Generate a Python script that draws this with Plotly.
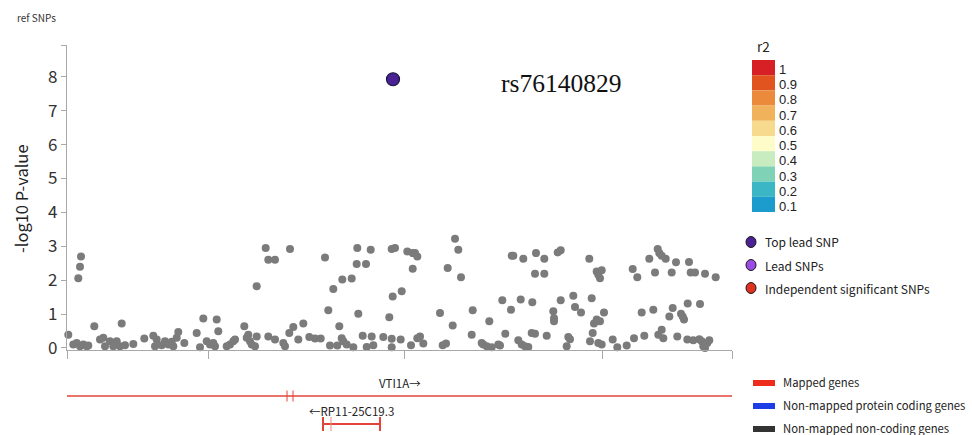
import plotly.graph_objects as go

W, H = 972, 435

# ---------------- data ----------------
# SNP positions (relative position in region, kb-like units) and -log10 P
snp_pos = [1.3, 6.3, 9.7, 13, 16.3, 19.7, 21.3, 11.3, 13, 14, 27.3, 33, 36.3, 38, 43, 46.3, 49.7, 53, 54.7, 58,
           66.3, 77.3, 86.3, 88, 89.7, 94.7, 98, 101.3, 104.7, 106.3, 109.7, 111.3, 117.3, 129.7, 133, 136.3, 139.7, 143, 146.3, 148,
           149.7, 151.3, 159.7, 163, 166.3, 168, 177.3, 179.7, 181.3, 183, 184.7, 188, 189.7, 189.7, 198.7, 201.3, 208, 201.3, 208, 216.3,
           218, 223, 222.3, 226.3, 231.3, 236.3, 242.3, 248, 253.7, 258, 261.3, 263, 266.3, 270.3, 272.3, 274.7, 276.3, 279.7, 275.3, 284.7,
           286.3, 290.3, 289.7, 291.3, 295.7, 299, 299.7, 303.7, 304.7, 306.3, 316.3, 322.3, 324.7, 328, 325.7, 324.7, 324.7, 334.7, 333.7, 340.3,
           345.7, 348, 350.3, 345.7, 344, 350.3, 353, 356.3, 373, 375.7, 379, 380.7, 385.7, 388, 391.3, 394, 404.7, 405.7, 414.7, 416.3,
           419.7, 422.3, 424.7, 431.3, 435.3, 438.3, 444, 433,
           444.7, 446.3, 451.3, 454.7, 458, 461.3, 453.7, 456.3, 465.3, 464.7, 468, 469, 468, 477.3, 477.3, 479.7, 486.3, 487, 487, 490.7,
           493.7, 493.7, 499.7, 501.3, 503, 506.3, 508, 514, 522.3, 523, 524.7, 525.7, 527, 529.7, 533, 537, 529.7, 531.3, 533, 534.7,
           531.3, 534.7, 545.7, 550.3, 559.7, 565.7, 570.3, 567, 574.7, 577.3, 582.3, 586.3, 588, 590.7, 592.3, 594.7, 598.7, 591.3, 594.7, 596.3,
           602.3, 604.7, 605.7, 609, 610.3, 614, 615.7, 617, 620.7, 620.3, 622, 623.7, 628, 626.3, 633, 632.3, 634.7, 636.3, 638, 640.3,
           642.3, 638, 648.7]
snp_logp = [0.39, 0.10, 0.15, 0.05, 0.10, 0.05, 0.07, 2.06, 2.40, 2.70, 0.64, 0.25, 0.30, 0.05, 0.20, 0.05, 0.20, 0.05, 0.72, 0.08,
            0.12, 0.28, 0.36, 0.05, 0.25, 0.08, 0.20, 0.10, 0.18, 0.05, 0.30, 0.47, 0.15, 0.44, 0.02, 0.87, 0.20, 0.10, 0.15, 0.05,
            0.84, 0.49, 0.05, 0.10, 0.20, 0.25, 0.64, 0.30, 0.39, 0.20, 0.10, 0.05, 0.34, 1.82, 2.95, 2.60, 2.60, 0.34, 0.25, 0.15,
            0.05, 2.92, 0.44, 0.62, 0.25, 0.72, 0.32, 0.28, 0.28, 2.67, 1.11, 0.07, 1.74, 0.07, 0.64, 0.29, 0.20, 0.10, 2.02, 2.05,
            0.02, 2.95, 2.48, 1.01, 0.36, 2.48, 0.03, 2.90, 0.34, 0.08, 0.32, 0.91, 2.92, 2.95, 1.52, 0.27, 0.02, 1.67, 0.25, 2.85,
            2.80, 2.80, 2.70, 2.34, 0.08, 0.29, 0.34, 0.13, 1.03, 0.08, 0.13, 2.36, 0.66, 3.22, 2.90, 2.09, 0.39, 1.11, 0.15, 0.10,
            0.05, 0.79, 0.02, 0.10, 1.41, 0.42, 1.13, 0.07,
            2.72, 2.72, 0.23, 0.10, 0.05, 0.03, 1.43, 2.63, 1.35, 0.44, 0.42, 2.80, 2.19, 2.19, 2.63, 0.36, 1.08, 0.88, 0.79, 2.82,
            2.88, 1.41, 0.05, 0.32, 0.26, 1.54, 1.21, 1.05, 2.63, 0.20, 1.47, 0.44, 0.72, 0.84, 0.79, 1.05, 2.26, 2.16, 2.06, 2.29,
            0.15, 0.10, 0.25, 0.02, 0.07, 2.33, 2.09, 0.29, 1.05, 0.36, 2.63, 1.13, 2.23, 2.92, 2.80, 2.72, 2.63, 0.39, 0.54, 0.29,
            0.93, 2.23, 1.18, 2.53, 0.34, 1.01, 0.93, 0.84, 1.31, 0.25, 2.54, 2.23, 2.23, 0.23, 1.30, 0.26, 0.20, 0.05, 0.00, 0.15,
            0.23, 2.19, 2.09]

lead_name = "rs76140829"
lead_pos = [326]
lead_logp = [7.93]

region = [0, 665]
x_ticks = [141, 337, 535]
y_ticks = [0, 1, 2, 3, 4, 5, 6, 7, 8]
y_top = 8.94

r2_labels = ["1", "0.9", "0.8", "0.7", "0.6", "0.5", "0.4", "0.3", "0.2", "0.1"]
r2_colors = ["#d71f26", "#e2541f", "#eb8a3a", "#f0b35c", "#f8da8e", "#fefcc8", "#c8ebc0", "#80d2b6", "#3bb6c4", "#1c9ccc"]

snp_legend_labels = ["Top lead SNP", "Lead SNPs", "Independent significant SNPs"]
snp_legend_colors = ["#4a2296", "#9b4ce6", "#e0321e"]

gene_legend_labels = ["Mapped genes", "Non-mapped protein coding genes", "Non-mapped non-coding genes"]
gene_legend_colors = ["#ee2c1c", "#1c3ee6", "#333333"]

gene_names = ["VTI1A\u2192", "\u2190RP11-25C19.3"]
gene_start = [0, 256]
gene_end = [665, 313]
gene_row = [0, 1]
gene_exons = [[220, 226], [264]]
gene_caps = [False, True]

# ---------------- layout helpers ----------------
FONT = "Noto Sans CJK JP, Liberation Sans, Arial, sans-serif"
FONT2 = "Liberation Sans, Arial, sans-serif"
def px(x):
    return x / W
def py(y):
    return 1 - y / H

row_y = {0: 39, 1: 11}
label_dy = 13
gene_color = "#e2443a"

fig = go.Figure()

fig.add_trace(go.Scatter(x=snp_pos, y=snp_logp, mode="markers",
                         marker=dict(size=8, color="#7b7b7b"), cliponaxis=False,
                         showlegend=False, hoverinfo="x+y"))
fig.add_trace(go.Scatter(x=lead_pos, y=lead_logp, mode="markers",
                         marker=dict(size=13, color="#4a2296", line=dict(width=1.2, color="#15153a")),
                         cliponaxis=False, showlegend=False, text=[lead_name]))

shapes = []
annotations = []

# gene track
for name, s, e, r, ex, cap in zip(gene_names, gene_start, gene_end, gene_row, gene_exons, gene_caps):
    yv = row_y[r]
    fig.add_trace(go.Scatter(x=[s, e], y=[yv, yv], mode="lines", xaxis="x2", yaxis="y2",
                             line=dict(color=gene_color, width=1.4 if not cap else 2),
                             showlegend=False, hoverinfo="skip", cliponaxis=False))
    for xe in ex:
        h = 7 if cap else 5.5
        fig.add_trace(go.Scatter(x=[xe, xe], y=[yv - h, yv + h], mode="lines", xaxis="x2", yaxis="y2",
                                 line=dict(color="#ee8a80" if cap else gene_color, width=1),
                                 showlegend=False, hoverinfo="skip", cliponaxis=False))
    if cap:
        for xe in (s, e):
            fig.add_trace(go.Scatter(x=[xe, xe], y=[yv - 7, yv + 7], mode="lines", xaxis="x2", yaxis="y2",
                                     line=dict(color=gene_color, width=2),
                                     showlegend=False, hoverinfo="skip", cliponaxis=False))
    annotations.append(dict(x=(s + e) / 2, y=yv + label_dy, xref="x2", yref="y2", text=name, showarrow=False,
                            font=dict(family=FONT, size=11.5, color="#222"), xanchor="center", yanchor="middle"))

# r2 colour scale
annotations.append(dict(x=px(763), y=py(46), xref="paper", yref="paper", text="r2", showarrow=False,
                        font=dict(family=FONT, size=13.5, color="#222"), xanchor="center", yanchor="middle"))
cell = 15.2
for i, (lab, col) in enumerate(zip(r2_labels, r2_colors)):
    y0 = 60 + i * cell
    shapes.append(dict(type="rect", xref="paper", yref="paper", x0=px(752), x1=px(775), y0=py(y0), y1=py(y0 + cell),
                       fillcolor=col, line=dict(width=0)))
    annotations.append(dict(x=px(777), y=py(y0 + cell / 2 + 2), xref="paper", yref="paper", text=lab, showarrow=False,
                            font=dict(family=FONT2, size=13, color="#222"), xanchor="left", yanchor="middle"))

# SNP legend
for i, (lab, col) in enumerate(zip(snp_legend_labels, snp_legend_colors)):
    cy = 242 + i * 23
    shapes.append(dict(type="circle", xref="paper", yref="paper", x0=px(746), x1=px(756), y0=py(cy - 5.5), y1=py(cy + 5.5),
                       fillcolor=col, line=dict(width=1, color="#1a1a1a")))
    annotations.append(dict(x=px(763), y=py(cy), xref="paper", yref="paper", text=lab, showarrow=False,
                            font=dict(family=FONT, size=12, color="#222"), xanchor="left", yanchor="middle"))

# gene legend
for i, (lab, col) in enumerate(zip(gene_legend_labels, gene_legend_colors)):
    cy = 383 + i * 23
    shapes.append(dict(type="rect", xref="paper", yref="paper", x0=px(753), x1=px(775), y0=py(cy - 3), y1=py(cy + 3),
                       fillcolor=col, line=dict(width=0)))
    annotations.append(dict(x=px(781), y=py(cy - 1), xref="paper", yref="paper", text=lab, showarrow=False,
                            font=dict(family=FONT, size=11.3, color="#222"), xanchor="left", yanchor="middle"))

# titles / labels
annotations.append(dict(x=px(15), y=py(17), xref="paper", yref="paper", text="ref SNPs", showarrow=False,
                        font=dict(family=FONT, size=10, color="#333"), xanchor="left", yanchor="middle"))
annotations.append(dict(x=px(21), y=py(199), xref="paper", yref="paper", text="-log10 P-value", showarrow=False,
                        textangle=-90, font=dict(family=FONT, size=16.5, color="#222"), xanchor="center", yanchor="middle"))
annotations.append(dict(x=px(561), y=py(84), xref="paper", yref="paper", text=lead_name, showarrow=False,
                        font=dict(family="Liberation Serif, Times New Roman, serif", size=25.5, color="#111"),
                        xanchor="center", yanchor="middle"))

axis_col = "#a8a8a8"
fig.update_layout(
    template="none",
    width=W, height=H, margin=dict(l=0, r=0, t=0, b=0, pad=0, autoexpand=False),
    paper_bgcolor="white", plot_bgcolor="white", showlegend=False,
    xaxis=dict(domain=[px(67), px(732)], range=region, showline=True, linecolor=axis_col, linewidth=1.2,
               ticks="outside", ticklen=8, tickcolor=axis_col, tickwidth=1.2,
               tickvals=[region[0]] + x_ticks + [region[1]], showticklabels=False,
               showgrid=False, zeroline=False, anchor="y", automargin=False, fixedrange=True),
    yaxis=dict(domain=[py(350), py(45)], range=[-0.06, y_top], showline=True, linecolor=axis_col, linewidth=1.2,
               ticks="outside", ticklen=5, tickcolor=axis_col, tickwidth=1.2,
               tickvals=y_ticks + [y_top], ticktext=[str(v) for v in y_ticks] + [""],
               tickfont=dict(family=FONT, size=17, color="#333"),
               showgrid=False, zeroline=False, anchor="x", automargin=False),
    xaxis2=dict(domain=[px(67), px(732)], range=region, visible=False, anchor="y2", matches="x", automargin=False),
    yaxis2=dict(domain=[0, 70 / H], range=[0, 70], visible=False, anchor="x2", automargin=False),
    shapes=shapes, annotations=annotations,
)

fig.write_html("out.html")
